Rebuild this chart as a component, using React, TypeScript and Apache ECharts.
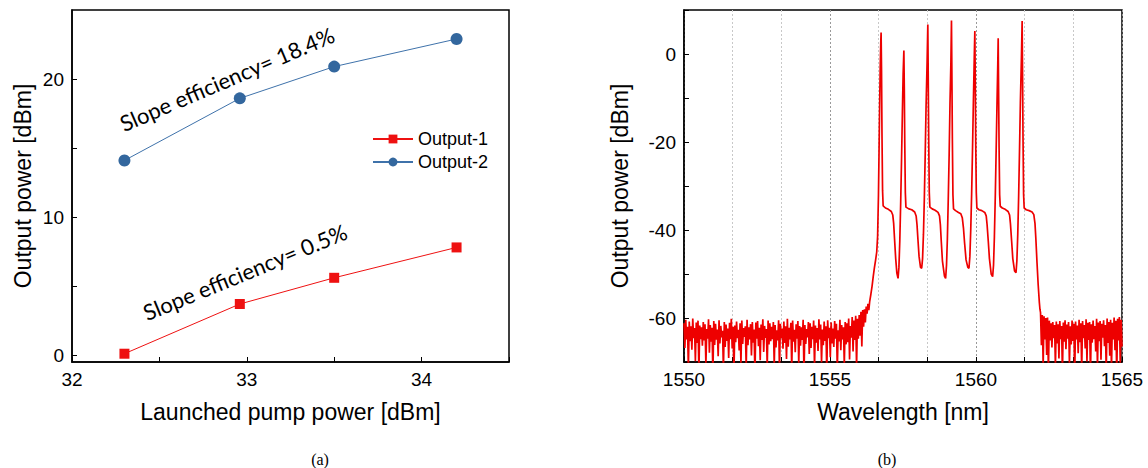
import React, { useEffect, useRef } from 'react';
import * as echarts from 'echarts';

// ---------- Panel (a): output power vs launched pump power ----------
const pumpPower = [32.3, 32.96, 33.5, 34.2];
const output1 = [0.1, 3.7, 5.6, 7.8];
const output2 = [14.1, 18.6, 20.9, 22.9];
const pumpLabelValues = [0, 10, 20];
const pumpTickValues = [0, 5, 10, 15, 20];

// ---------- Panel (b): optical spectrum ----------
const spectrumLabelValues = [-60, -40, -20, 0];
const labelledWavelengths = [1550, 1555, 1560, 1565];

// noise floor on the short-wavelength side, sampled from 1550.00 nm every 0.03 nm
const leftNoiseStart = 1550.0;
const leftNoiseStep = 0.03;
const leftNoise = [
  -61.2, -66.8, -60.4, -64.9, -62.0, -71.5, -60.8, -65.3, -61.9, -67.2,
  -60.1, -64.6, -62.3, -69.8, -61.0, -65.7, -60.6, -72.4, -61.7, -64.8,
  -62.1, -66.3, -60.9, -65.1, -61.4, -70.6, -62.5, -64.7, -60.3, -67.9,
  -61.6, -65.4, -62.2, -73.0, -60.7, -66.1, -61.3, -64.9, -62.6, -68.7,
  -60.5, -65.8, -61.8, -64.4, -62.9, -71.9, -60.9, -66.6, -61.5, -65.2,
  -62.4, -69.1, -61.1, -64.8, -60.2, -66.9, -62.0, -72.8, -61.7, -65.5,
  -60.8, -64.6, -62.7, -67.4, -61.2, -70.3, -60.6, -65.9, -62.3, -64.3,
  -61.9, -71.2, -60.4, -66.2, -62.1, -64.9, -61.4, -68.5, -60.9, -65.6,
  -62.6, -73.5, -61.0, -64.7, -60.7, -66.4, -62.2, -69.6, -61.5, -65.0,
  -60.3, -67.7, -61.8, -64.5, -62.5, -71.0, -60.6, -66.0, -61.2, -65.3,
  -62.0, -64.8, -60.9, -70.9, -61.6, -66.7, -62.8, -65.1, -60.5, -72.1,
  -61.3, -64.6, -62.4, -67.0, -60.8, -65.7, -61.9, -69.3, -60.2, -66.5,
  -62.2, -64.9, -61.1, -71.7, -60.6, -65.4, -62.7, -67.8, -61.4, -64.7,
  -60.7, -70.4, -61.8, -66.3, -62.1, -65.0, -60.4, -73.2, -61.6, -65.9,
  -62.5, -64.4, -60.9, -68.2, -61.2, -66.8, -62.0, -64.8, -60.6, -71.4,
  -61.7, -65.6, -62.3, -67.5, -60.3, -64.9, -61.5, -70.1, -62.6, -66.2,
  -60.8, -65.2, -61.9, -72.6, -60.5, -64.6, -62.2, -68.9, -61.0, -65.8,
  -62.4, -66.6, -60.7, -64.7, -61.3, -71.8, -62.8, -65.3, -60.4, -67.3,
  -61.6, -64.9, -62.1, -70.7, -60.9, -66.0, -61.2, -65.5, -60.1, -69.4,
  -61.8, -64.5, -59.8, -67.6, -60.6, -65.0, -59.5, -71.3, -60.2, -64.7,
  -59.3,
];

// noisy foot of the amplified band [wavelength nm, dBm]
const edgeNoise = [
  [1556.03, -64.0], [1556.06, -58.6], [1556.09, -66.5], [1556.12, -58.2],
  [1556.15, -62.0], [1556.18, -58.0], [1556.21, -61.0], [1556.24, -57.4],
  [1556.27, -59.0], [1556.30, -56.8], [1556.33, -58.2],
];

// the seven laser lines with the ASE plateaus and dips between them [wavelength nm, dBm]
const laserLines = [
  [1556.36, -56.2], [1556.40, -54.6], [1556.44, -52.8], [1556.48, -50.6], [1556.52, -48.6],
  [1556.56, -46.9], [1556.60, -45.0], [1556.63, -41.5], [1556.66, -32.0], [1556.68, -22.0],
  [1556.70, -12.0], [1556.72, -3.0], [1556.74, 3.0], [1556.75, 4.9],
  [1556.765, -4.0], [1556.78, -18.0], [1556.80, -31.0], [1556.82, -34.5], [1556.90, -35.0],
  [1557.00, -35.3], [1557.10, -35.8], [1557.15, -36.6], [1557.18, -38.5], [1557.21, -42.0],
  [1557.25, -46.5], [1557.29, -49.8], [1557.33, -51.0], [1557.36, -48.5], [1557.39, -42.5],
  [1557.42, -34.0], [1557.45, -24.0], [1557.48, -13.0], [1557.505, -4.5], [1557.53, 0.8],
  [1557.545, -8.0], [1557.56, -20.0], [1557.58, -31.5], [1557.60, -34.8], [1557.70, -35.2],
  [1557.80, -35.4], [1557.90, -35.9], [1557.95, -36.8], [1557.98, -38.8], [1558.01, -42.0],
  [1558.05, -46.0], [1558.10, -48.5], [1558.14, -48.7], [1558.17, -46.5], [1558.20, -41.0],
  [1558.23, -33.0], [1558.26, -23.0], [1558.29, -12.0], [1558.325, -2.0], [1558.35, 6.7],
  [1558.365, -6.0], [1558.38, -19.0], [1558.40, -31.5], [1558.42, -34.8], [1558.50, -35.2],
  [1558.60, -35.5], [1558.70, -36.0], [1558.75, -36.8], [1558.78, -38.8], [1558.81, -42.5],
  [1558.85, -47.0], [1558.92, -50.5], [1558.96, -51.0], [1558.99, -48.0], [1559.02, -42.0],
  [1559.05, -33.0], [1559.08, -23.0], [1559.11, -11.0], [1559.14, -2.0], [1559.16, 7.6],
  [1559.175, -5.0], [1559.19, -19.0], [1559.21, -32.0], [1559.23, -35.2], [1559.30, -35.6],
  [1559.40, -36.0], [1559.48, -36.3], [1559.53, -37.2], [1559.57, -39.5], [1559.61, -43.0],
  [1559.66, -46.8], [1559.72, -48.5], [1559.76, -48.7], [1559.79, -46.0], [1559.82, -40.0],
  [1559.85, -32.0], [1559.88, -22.0], [1559.91, -11.0], [1559.94, -1.0], [1559.96, 5.2],
  [1559.975, -6.0], [1559.99, -20.0], [1560.01, -31.5], [1560.03, -35.0], [1560.10, -35.4],
  [1560.20, -35.6], [1560.30, -36.0], [1560.35, -36.8], [1560.38, -38.8], [1560.42, -42.5],
  [1560.46, -46.5], [1560.52, -50.0], [1560.57, -50.6], [1560.60, -48.0], [1560.63, -41.5],
  [1560.66, -32.5], [1560.69, -22.0], [1560.72, -11.0], [1560.745, -2.5], [1560.76, 3.6],
  [1560.775, -9.0], [1560.79, -21.0], [1560.81, -32.0], [1560.83, -34.6], [1560.90, -35.0],
  [1561.00, -35.3], [1561.10, -35.8], [1561.15, -36.6], [1561.18, -38.6], [1561.22, -42.5],
  [1561.26, -46.5], [1561.32, -49.3], [1561.37, -49.7], [1561.40, -47.0], [1561.43, -41.0],
  [1561.46, -32.5], [1561.49, -22.0], [1561.52, -11.0], [1561.555, -1.0], [1561.58, 7.5],
  [1561.595, -5.0], [1561.61, -19.0], [1561.63, -32.0], [1561.65, -35.0], [1561.72, -35.4],
  [1561.82, -35.6], [1561.92, -35.9], [1561.98, -36.5], [1562.02, -38.5], [1562.05, -42.0],
  [1562.09, -47.5], [1562.13, -52.5], [1562.17, -56.5], [1562.19, -58.0],
];

// noise floor on the long-wavelength side, sampled from 1562.21 nm every 0.03 nm
const rightNoiseStart = 1562.21;
const rightNoiseStep = 0.03;
const rightNoise = [
  -58.8, -66.2, -59.3, -70.8, -59.6, -64.9, -60.0, -68.4, -59.9, -72.3,
  -60.6, -65.1, -61.2, -66.7, -60.9, -64.6, -61.6, -71.0, -60.8, -65.8,
  -61.4, -69.2, -60.7, -64.8, -61.8, -72.6, -61.0, -65.4, -60.5, -67.1,
  -61.5, -64.7, -60.9, -70.4, -61.9, -66.0, -60.6, -65.2, -61.3, -73.1,
  -60.8, -64.9, -61.7, -68.0, -60.4, -65.5, -61.2, -71.6, -60.7, -64.6,
  -61.6, -66.9, -60.3, -69.9, -61.1, -65.0, -60.9, -72.9, -61.4, -65.6,
  -60.6, -64.8, -61.8, -67.6, -60.2, -71.2, -61.0, -65.3, -60.7, -69.5,
  -61.3, -64.5, -60.5, -66.4, -61.6, -72.0, -60.1, -65.7, -60.9, -68.6,
  -60.4, -71.7, -61.1, -64.9, -59.9, -67.3, -60.6, -73.4, -60.2, -65.1,
  -59.8, -70.2, -60.4, -66.5,
];

const FONT = "'Liberation Sans', Arial, sans-serif";
const TICK_SIZE = 19;
const NAME_SIZE = 23;

function buildSpectrum(): number[][] {
  const pts: number[][] = [];
  leftNoise.forEach((v, i) => pts.push([leftNoiseStart + i * leftNoiseStep, v]));
  edgeNoise.forEach((p) => pts.push(p));
  laserLines.forEach((p) => pts.push(p));
  rightNoise.forEach((v, i) => pts.push([rightNoiseStart + i * rightNoiseStep, v]));
  return pts;
}

const axisLineStyle = { color: '#000', width: 1.5 };

function buildOption(): any {
  const spectrum = buildSpectrum();
  return {
    animation: false,
    backgroundColor: '#fff',
    grid: [
      { left: 72, top: 10, width: 437, height: 352, show: true, borderColor: '#000', borderWidth: 1.5, backgroundColor: 'transparent' },
      { left: 684, top: 10, width: 438, height: 352, show: true, borderColor: '#000', borderWidth: 1.5, backgroundColor: 'transparent' },
    ],
    legend: {
      data: ['Output-1', 'Output-2'],
      orient: 'vertical',
      left: 372,
      top: 130,
      padding: 0,
      itemWidth: 40,
      itemHeight: 11,
      itemGap: 5,
      textStyle: { fontFamily: FONT, fontSize: 18, color: '#000' },
    },
    xAxis: [
      {
        type: 'value',
        gridIndex: 0,
        min: 32,
        max: 34.5,
        interval: 0.5,
        axisLine: { show: true, onZero: false, lineStyle: axisLineStyle },
        axisTick: { show: true, inside: true, length: 5, lineStyle: { color: '#000' } },
        axisLabel: {
          fontFamily: FONT,
          fontSize: TICK_SIZE,
          color: '#000',
          margin: 8,
          formatter: (v: number) => (Math.abs(v - Math.round(v)) < 1e-6 ? String(Math.round(v)) : ''),
        },
        splitLine: { show: false },
        name: 'Launched pump power [dBm]',
        nameLocation: 'middle',
        nameGap: 38,
        nameTextStyle: { fontFamily: FONT, fontSize: NAME_SIZE, color: '#000' },
      },
      {
        type: 'value',
        gridIndex: 1,
        min: 1550,
        max: 1565,
        interval: 5 / 3,
        axisLine: { show: true, onZero: false, lineStyle: axisLineStyle },
        axisTick: { show: true, inside: true, length: 5, lineStyle: { color: '#000' } },
        axisLabel: {
          fontFamily: FONT,
          fontSize: TICK_SIZE,
          color: '#000',
          margin: 8,
          showMinLabel: true,
          showMaxLabel: true,
          formatter: (v: number) => {
            const r = Math.round(v);
            return Math.abs(v - r) < 1e-6 && labelledWavelengths.includes(r) ? String(r) : '';
          },
        },
        splitLine: {
          show: true,
          lineStyle: { type: [2, 2], color: ['#999', '#c8c8c8', '#c8c8c8'], width: 1 },
        },
        name: 'Wavelength [nm]',
        nameLocation: 'middle',
        nameGap: 38,
        nameTextStyle: { fontFamily: FONT, fontSize: NAME_SIZE, color: '#000' },
      },
    ],
    yAxis: [
      {
        type: 'value',
        gridIndex: 0,
        min: -0.5,
        max: 25,
        axisLine: { show: true, onZero: false, lineStyle: axisLineStyle },
        axisTick: { show: true, inside: true, length: 5, customValues: pumpTickValues, lineStyle: { color: '#000' } },
        axisLabel: { fontFamily: FONT, fontSize: TICK_SIZE, color: '#000', margin: 8, customValues: pumpLabelValues },
        splitLine: { show: false },
        name: 'Output power [dBm]',
        nameLocation: 'middle',
        nameGap: 38,
        nameTextStyle: { fontFamily: FONT, fontSize: NAME_SIZE, color: '#000' },
      },
      {
        type: 'value',
        gridIndex: 1,
        min: -70,
        max: 10,
        interval: 10,
        axisLine: { show: true, onZero: false, lineStyle: axisLineStyle },
        axisTick: { show: true, inside: true, length: 5, lineStyle: { color: '#000' } },
        axisLabel: {
          fontFamily: FONT,
          fontSize: TICK_SIZE,
          color: '#000',
          margin: 8,
          formatter: (v: number) => (spectrumLabelValues.includes(Math.round(v)) ? String(Math.round(v)) : ''),
        },
        splitLine: { show: false },
        name: 'Output power [dBm]',
        nameLocation: 'middle',
        nameGap: 53,
        nameTextStyle: { fontFamily: FONT, fontSize: NAME_SIZE, color: '#000' },
      },
    ],
    series: [
      {
        name: 'Output-1',
        type: 'line',
        xAxisIndex: 0,
        yAxisIndex: 0,
        data: pumpPower.map((x, i) => [x, output1[i]]),
        symbol: 'rect',
        symbolSize: 10,
        lineStyle: { width: 1, color: '#ee1111' },
        itemStyle: { color: '#ee1111' },
      },
      {
        name: 'Output-2',
        type: 'line',
        xAxisIndex: 0,
        yAxisIndex: 0,
        data: pumpPower.map((x, i) => [x, output2[i]]),
        symbol: 'circle',
        symbolSize: 12,
        lineStyle: { width: 1, color: '#3f72aa' },
        itemStyle: { color: '#33679e' },
      },
      {
        name: 'Spectrum',
        type: 'line',
        xAxisIndex: 1,
        yAxisIndex: 1,
        data: spectrum,
        symbol: 'none',
        showSymbol: false,
        clip: true,
        silent: true,
        lineStyle: { width: 1.7, color: '#ee0000', join: 'bevel' },
        itemStyle: { color: '#ee0000' },
      },
    ],
    graphic: [
      {
        type: 'text',
        x: 227,
        y: 79,
        rotation: 0.405,
        style: {
          text: 'Slope efficiency= 18.4%',
          fontFamily: 'Lato, sans-serif',
          fontSize: 22,
          fill: '#000',
          textAlign: 'center',
          align: 'center',
          textVerticalAlign: 'middle',
          verticalAlign: 'middle',
        },
      },
      {
        type: 'text',
        x: 245,
        y: 272,
        rotation: 0.39,
        style: {
          text: 'Slope efficiency= 0.5%',
          fontFamily: 'Lato, sans-serif',
          fontSize: 22,
          fill: '#000',
          textAlign: 'center',
          align: 'center',
          textVerticalAlign: 'middle',
          verticalAlign: 'middle',
        },
      },
      {
        type: 'text',
        x: 320,
        y: 459,
        style: {
          text: '(a)',
          fontFamily: "'Liberation Serif', serif",
          fontSize: 16,
          fill: '#000',
          textAlign: 'center',
          align: 'center',
          textVerticalAlign: 'middle',
          verticalAlign: 'middle',
        },
      },
      {
        type: 'text',
        x: 887,
        y: 459,
        style: {
          text: '(b)',
          fontFamily: "'Liberation Serif', serif",
          fontSize: 16,
          fill: '#000',
          textAlign: 'center',
          align: 'center',
          textVerticalAlign: 'middle',
          verticalAlign: 'middle',
        },
      },
    ],
  };
}

export default function App() {
  const ref = useRef<HTMLDivElement>(null);
  useEffect(() => {
    if (!ref.current) return;
    const chart = echarts.init(ref.current, null, { renderer: 'svg' });
    chart.setOption(buildOption());
    return () => chart.dispose();
  }, []);
  return (
    <div
      ref={ref}
      style={{ position: 'fixed', left: 0, top: 0, width: 1148, height: 468, background: '#fff' }}
    />
  );
}
